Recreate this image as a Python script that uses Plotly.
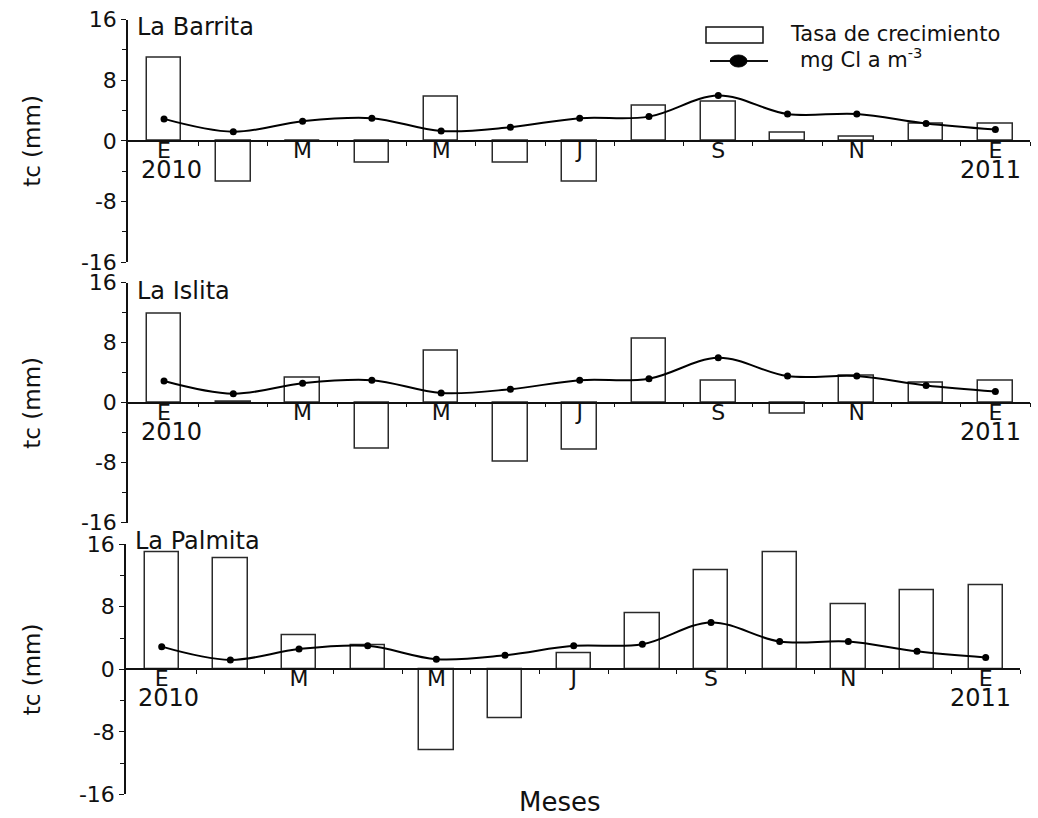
import plotly.graph_objects as go

# Monthly series, January 2010 to January 2011
meses = ["E", "F", "M", "A", "M", "J", "J", "A", "S", "O", "N", "D", "E"]
etiquetas_x = ["E", "M", "M", "J", "S", "N", "E"]
anios = ["2010", "2011"]

sitios = ["La Barrita", "La Islita", "La Palmita"]
tasa_barrita = [11.0, -5.4, 0.0, -2.9, 5.8, -2.9, -5.4, 4.7, 5.2, 1.1, 0.5, 2.3, 2.3]
tasa_islita = [11.9, 0.1, 3.3, -6.1, 7.0, -7.8, -6.3, 8.6, 3.0, -1.5, 3.6, 2.7, 3.0]
tasa_palmita = [15.0, 14.2, 4.3, 3.1, -10.3, -6.2, 2.1, 7.2, 12.7, 15.0, 8.3, 10.1, 10.8]
clorofila = [2.9, 1.2, 2.6, 3.0, 1.3, 1.8, 3.0, 3.2, 6.0, 3.55, 3.55, 2.3, 1.5]

y_ticks = [-16, -8, 0, 8, 16]
y_ticktext = ["-16", "-8", "0", "8", "16"]
y_minor = [-12, -4, 4, 12]

W, H = 1038, 818
FONT = "DejaVu Sans"
INK = "#111111"


def fx(px):
    return px / W


def fy(py):
    return 1 - py / H


x_idx = list(range(len(meses)))
x_tickvals = x_idx[::2]
x_minor = [i + 0.5 for i in range(len(meses))]
x_range = [-0.52, 12.5]

# pixel layout of each panel: (x left, x right, y top, y bottom, title y)
paneles = [
    (128, 1030, 19.7, 262.0, 27),
    (128, 1030, 282.7, 522.7, 291),
    (126, 1020, 544.2, 794.4, 541),
]
series = [tasa_barrita, tasa_islita, tasa_palmita]

fig = go.Figure()
annotations = []
shapes = []

for i, (nombre, datos, (xl, xr, yt, yb, ytit)) in enumerate(zip(sitios, series, paneles)):
    n = i + 1
    xa = "x" if n == 1 else f"x{n}"
    ya = "y" if n == 1 else f"y{n}"
    fig.add_trace(go.Bar(
        x=x_idx, y=datos, width=0.5, xaxis=xa, yaxis=ya,
        marker=dict(color="white", line=dict(color="#2a2a2a", width=1.5)),
        name="Tasa de crecimiento", showlegend=False,
    ))
    fig.add_trace(go.Scatter(
        x=x_idx, y=clorofila, xaxis=xa, yaxis=ya, mode="lines+markers",
        line=dict(color="black", width=2, shape="spline", smoothing=1.0),
        marker=dict(color="black", size=7),
        name="mg Cl a m-3", showlegend=False,
    ))

    dom_y = [fy(yb), fy(yt)]
    dom_x = [fx(xl), fx(xr)]
    key = "" if n == 1 else str(n)
    fig.update_layout(**{
        f"xaxis{key}": dict(
            domain=dom_x, range=x_range, anchor="free",
            position=(dom_y[0] + dom_y[1]) / 2,
            tickmode="array", tickvals=x_tickvals, ticktext=etiquetas_x,
            ticks="", ticklabelstandoff=-10,
            showline=True, linecolor=INK, linewidth=1.5,
            showgrid=False, zeroline=False,
            tickfont=dict(family=FONT, size=22, color=INK),
            minor=dict(tickmode="array", tickvals=x_minor, ticks="outside",
                       ticklen=4, tickwidth=1.2, tickcolor=INK, showgrid=False),
        ),
        f"yaxis{key}": dict(
            domain=dom_y, range=[-16, 16], anchor=xa,
            tickmode="array", tickvals=y_ticks, ticktext=y_ticktext,
            ticks="outside", ticklen=5, tickwidth=1.2, tickcolor=INK,
            showline=True, linecolor=INK, linewidth=1.5,
            showgrid=False, zeroline=False,
            tickfont=dict(family=FONT, size=22, color=INK),
            minor=dict(tickmode="array", tickvals=y_minor, ticks="outside",
                       ticklen=4, tickwidth=1.2, tickcolor=INK, showgrid=False),
        ),
    })

    # site name, top-left of panel
    annotations.append(dict(
        text=nombre, xref="paper", yref="paper", x=fx(xl + 7), y=fy(ytit),
        xanchor="left", yanchor="middle", showarrow=False,
        font=dict(family=FONT, size=24, color=INK),
    ))
    # axis title, centred on the zero line
    annotations.append(dict(
        text="tc (mm)", xref="paper", yref="paper", x=fx(32),
        y=fy((yt + yb) / 2), xanchor="center", yanchor="middle",
        textangle=-90, showarrow=False,
        font=dict(family=FONT, size=23, color=INK),
    ))
    # years under the first and last month
    for xv, anio, dx in ((x_idx[0], anios[0], 7), (x_idx[-1], anios[1], -5)):
        annotations.append(dict(
            text=anio, xref=xa, yref=ya, x=xv, y=0, xshift=dx, yshift=-29,
            xanchor="center", yanchor="middle", showarrow=False,
            font=dict(family=FONT, size=24, color=INK),
        ))

# legend drawn as swatches with labels
shapes.append(dict(type="rect", xref="paper", yref="paper",
                   x0=fx(706), x1=fx(763), y0=fy(43), y1=fy(27),
                   line=dict(color=INK, width=1.5), fillcolor="white"))
shapes.append(dict(type="line", xref="paper", yref="paper",
                   x0=fx(710), x1=fx(768), y0=fy(61), y1=fy(61),
                   line=dict(color=INK, width=2)))
shapes.append(dict(type="circle", xref="paper", yref="paper",
                   x0=fx(730), x1=fx(747), y0=fy(67), y1=fy(55),
                   line=dict(color="black", width=1), fillcolor="black"))
annotations.append(dict(
    text="Tasa de crecimiento", xref="paper", yref="paper", x=fx(788), y=fy(34),
    xanchor="left", yanchor="middle", showarrow=False,
    font=dict(family=FONT, size=21, color=INK),
))
annotations.append(dict(
    text="mg Cl a m<sup>-3</sup>", xref="paper", yref="paper", x=fx(798), y=fy(58),
    xanchor="left", yanchor="middle", showarrow=False,
    font=dict(family=FONT, size=21, color=INK),
))
annotations.append(dict(
    text="Meses", xref="paper", yref="paper", x=fx(560), y=fy(802),
    xanchor="center", yanchor="middle", showarrow=False,
    font=dict(family=FONT, size=26, color=INK),
))

fig.update_layout(
    width=W, height=H,
    margin=dict(l=0, r=0, t=0, b=0, autoexpand=False),
    paper_bgcolor="white", plot_bgcolor="white",
    showlegend=False, bargap=0,
    annotations=annotations, shapes=shapes,
)

fig.write_html("out.html")
